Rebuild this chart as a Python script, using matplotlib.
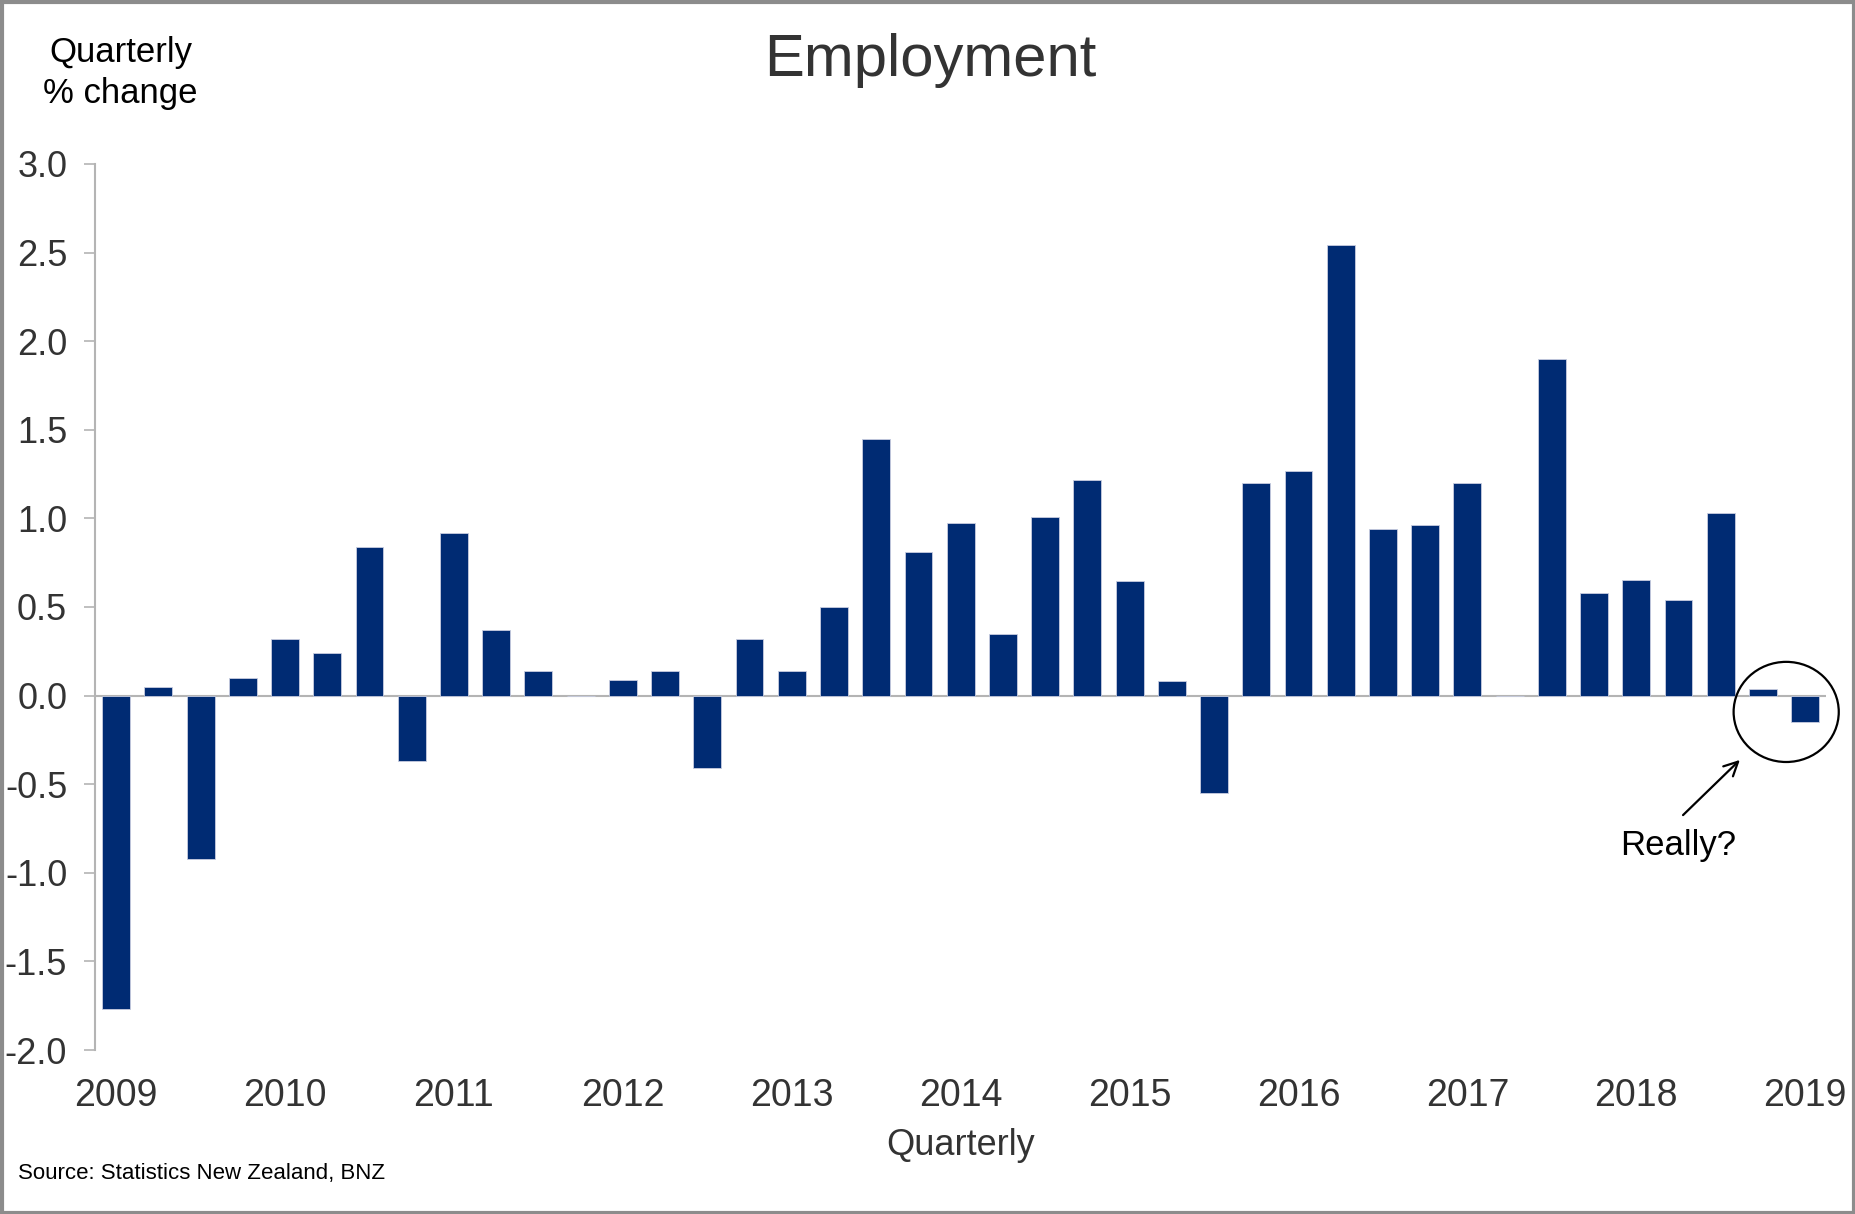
import matplotlib
matplotlib.use("Agg")
import matplotlib.pyplot as plt
from matplotlib.patches import Ellipse, Rectangle
from matplotlib.ticker import FormatStrFormatter

# quarterly % change, 2009Q1 .. 2019Q1 (0.0 = no bar shown)
employment = [-1.77, 0.05, -0.92, 0.10,
              0.32, 0.24, 0.84, -0.37,
              0.92, 0.37, 0.14, 0.0,
              0.09, 0.14, -0.41, 0.32,
              0.14, 0.50, 1.45, 0.81,
              0.975, 0.35, 1.01, 1.215,
              0.645, 0.085, -0.55, 1.20,
              1.27, 2.54, 0.94, 0.965,
              1.20, 0.0, 1.90, 0.58,
              0.655, 0.54, 1.03, 0.035,
              -0.15]
years = [str(y) for y in range(2009, 2020)]
yticks = [3.0, 2.5, 2.0, 1.5, 1.0, 0.5, 0.0, -0.5, -1.0, -1.5, -2.0]

navy = '#002B73'
grey = '#B4B4B4'
txt = '#333333'

plt.rcParams['font.family'] = ['Liberation Sans', 'DejaVu Sans']

fig = plt.figure(figsize=(18.56, 12.14), dpi=100)
ax = fig.add_axes([0.0512, 0.135, 0.9328, 0.730])

x = list(range(len(employment)))
ax.bar(x, employment, width=0.66, color=navy, edgecolor='#c8cde0', linewidth=0.6, zorder=2)

ax.set_xlim(-0.5, 40.5)
ax.set_ylim(-2.0, 3.0)
ax.axhline(0, color=grey, lw=1.5, zorder=1)

ax.set_yticks(yticks)
ax.yaxis.set_major_formatter(FormatStrFormatter('%.1f'))
ax.tick_params(axis='y', direction='out', length=8, width=1.2, color=grey,
               labelsize=26, labelcolor=txt, pad=12)
ax.set_xticks(range(0, 41, 4))
ax.set_xticklabels(years)
ax.tick_params(axis='x', length=0, labelsize=27, labelcolor=txt, pad=20)

for s in ['top', 'right', 'bottom']:
    ax.spines[s].set_visible(False)
ax.spines['left'].set_color(grey)
ax.spines['left'].set_linewidth(1.5)

ax.set_xlabel('Quarterly', fontsize=26, color=txt, labelpad=10)

fig.text(0.501, 0.950, 'Employment', ha='center', va='center', fontsize=43, color=txt)
fig.text(0.065, 0.957, 'Quarterly', ha='center', va='center', fontsize=25, color='black')
fig.text(0.065, 0.923, '% change', ha='center', va='center', fontsize=25, color='black')
fig.text(0.0097, 0.033, 'Source: Statistics New Zealand, BNZ', ha='left', va='center',
         fontsize=16, color='black')

# annotation round the last two quarters
ax.add_patch(Ellipse((39.55, -0.092), 2.49, 0.565, fill=False, edgecolor='black',
                     lw=1.6, clip_on=False, zorder=3))
ax.annotate('', xy=(38.5, -0.352), xytext=(37.06, -0.685),
            arrowprops=dict(arrowstyle='->', color='black', lw=1.6, mutation_scale=25))
ax.text(36.99, -0.848, 'Really?', ha='center', va='center', fontsize=25, color='black')

# grey frame around the picture
fig.patches.append(Rectangle((0.001, 0.001), 0.998, 0.997, transform=fig.transFigure,
                             fill=False, edgecolor='#8c8c8c', lw=3))

fig.savefig('out.png', dpi=100)
